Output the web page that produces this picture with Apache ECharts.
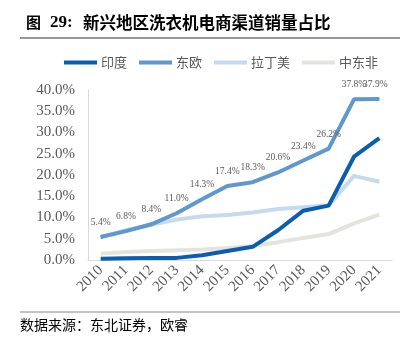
<!DOCTYPE html>
<html><head><meta charset="utf-8">
<script src="https://cdn.jsdelivr.net/npm/echarts@6/dist/echarts.min.js"></script>
<style>html,body{margin:0;padding:0;background:#fff}#c{width:417px;height:338px}</style>
</head><body><div id="c"></div>
<script>
const categories = ['2010','2011','2012','2013','2014','2015','2016','2017','2018','2019','2020','2021'];
const india = [0.3,0.4,0.5,0.5,1.1,2.1,3.1,7.0,11.6,12.8,24.3,28.7];
const eastEurope = [5.4,6.8,8.4,11.0,14.3,17.4,18.3,20.6,23.4,26.2,37.8,37.9];
const latinAmerica = [5.4,7.0,8.3,9.5,10.3,10.6,11.2,12.0,12.4,12.9,19.8,18.4];
const middleEastAfrica = [1.5,1.9,2.1,2.3,2.5,2.8,3.3,4.2,5.2,6.1,8.6,10.7];
const seriesNames = ['印度','东欧','拉丁美','中东非'];
const yTicks = {min:0, max:40, interval:5};

const chart = echarts.init(document.getElementById('c'));
const colors = ['#0C5DB0','#5F98CE','#C5DAEE','#E5E3DE'];
const serif = 'Liberation Serif, Times New Roman, serif';
const cjk = 'Noto Sans CJK SC';
const datasets = [india, eastEurope, latinAmerica, middleEastAfrica];
chart.setOption({
  animation:false,
  color: colors,
  title:{text:'{a|图}{b|29:}{c|新兴地区洗衣机电商渠道销量占比}', left:21, top:9,
    textStyle:{fontFamily:cjk, fontSize:17, fontWeight:'bold', color:'#000',
      rich:{
        a:{fontFamily:cjk, fontSize:15, fontWeight:'bold', color:'#000', width:24},
        b:{fontFamily:serif, fontSize:17, fontWeight:'bold', color:'#000', width:33},
        c:{fontFamily:cjk, fontSize:16.5, fontWeight:'bold', color:'#000'}
      }}},
  graphic:[
    {type:'line', shape:{x1:20,y1:38,x2:400,y2:38}, style:{stroke:'#333',lineWidth:1}},
    {type:'line', shape:{x1:20,y1:312,x2:400,y2:312}, style:{stroke:'#888',lineWidth:1}},
    {type:'text', left:20, top:318, style:{text:'数据来源：东北证券，欧睿', font:'14px "Noto Sans CJK SC"', fill:'#000'}}
  ],
  legend:{top:51, left:59, itemWidth:33, itemHeight:4, itemGap:12, icon:'rect',
    data:seriesNames, itemStyle:{opacity:1},
    textStyle:{fontFamily:cjk, fontSize:13, color:'#595959', padding:[0,0,0,-1]}},
  grid:{left:88, right:25, top:90, bottom:78},
  xAxis:{type:'category', data:categories, boundaryGap:true,
    axisLine:{lineStyle:{color:'#D9D9D9'}}, axisTick:{show:false},
    axisLabel:{rotate:45, fontFamily:serif, fontSize:15, color:'#595959', margin:8, interval:0}},
  yAxis:{type:'value', min:yTicks.min, max:yTicks.max, interval:yTicks.interval,
    axisLine:{show:true, lineStyle:{color:'#D9D9D9'}}, axisTick:{show:false},
    splitLine:{show:false},
    axisLabel:{formatter:v=>v.toFixed(1)+'%', fontFamily:serif, fontSize:15, color:'#595959', margin:13}},
  series: datasets.map((d,i)=>({
    name:seriesNames[i], type:'line', symbol:'circle', symbolSize:1, showSymbol:i===1,
    data: i===1 ? d.map((v,k)=> k===d.length-1 ? {value:v, label:{offset:[-4,0]}} : v) : d,
    itemStyle:{color:colors[i]},
    lineStyle:{width:4, color:colors[i]},
    z: [5,4,3,2][i],
    label: i===1 ? {show:true, position:'top', distance:9, fontFamily:serif, fontSize:9.5, color:'#595959',
      formatter:p=>p.value.toFixed(1)+'%'} : {show:false}
  }))
});
</script></body></html>
